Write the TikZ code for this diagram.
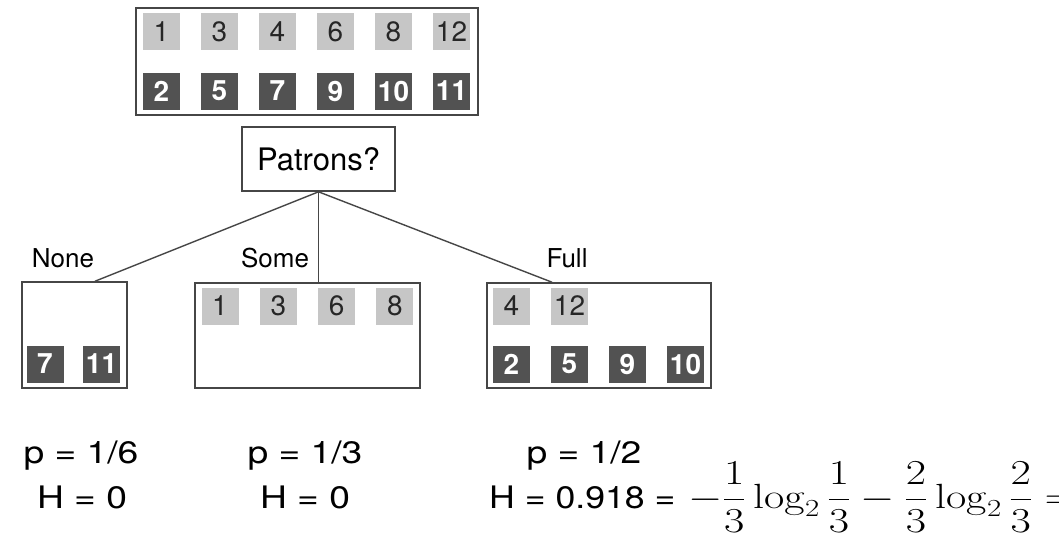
\documentclass[tikz,border=0pt]{standalone}
\usepackage{fix-cm}
\usepackage{amsmath}
\usepackage[no-math]{fontspec}
\setmainfont{TeX Gyre Heros}
\definecolor{boxline}{RGB}{70,70,70}
\definecolor{paleex}{RGB}{198,198,198}
\definecolor{darkex}{RGB}{82,82,82}
\newcommand{\widetext}[2][1.2]{\scalebox{#1}[1]{#2}}

\begin{document}
\begin{tikzpicture}[
        x=1pt, y=-1pt,
        setbox/.style={draw=boxline, line width=1.6pt, inner sep=0pt},
        pos_ex/.style={fill=paleex, minimum size=37pt, inner sep=0pt, text=black!85, font=\fontsize{28}{28}\selectfont},
        neg_ex/.style={fill=darkex, minimum size=37pt, inner sep=0pt, text=white, font=\fontsize{28}{28}\selectfont\bfseries},
        branch/.style={line width=1.4pt, draw=boxline},
        value_label/.style={font=\fontsize{26}{26}\selectfont, anchor=base},
        stat/.style={font=\fontsize{31}{31}\selectfont, anchor=base, inner sep=0pt}
    ]
    \useasboundingbox (0,0) rectangle (1059,533);

    % --- All twelve examples ---
    \node[setbox, minimum width=342pt, minimum height=107pt] (all) at (307,61.5) {};
    \foreach \n [count=\i] in {1,3,4,6,8,12}
        \node[pos_ex] (a\n) at (103.5+58*\i,31.5) {\n};
    \foreach \n [count=\i] in {2,5,7,9,10,11}
        \node[neg_ex] (a\n) at (103.5+58*\i,91) {\n};

    % --- Attribute test ---
    \node[setbox, minimum width=153pt, minimum height=64pt, font=\fontsize{31}{31}\selectfont] (patrons) at (318.5,159) {Patrons?};

    % --- Leaves ---
    \node[setbox, minimum width=105pt, minimum height=106pt] (none) at (74.5,335) {};
    \node[setbox, minimum width=225pt, minimum height=105pt] (some) at (307.5,335.5) {};
    \node[setbox, minimum width=224pt, minimum height=105pt] (full) at (599,335.5) {};

    % None
    \node[neg_ex] (n7) at (45,364) {7};
    \node[neg_ex] (n11) at (101.5,364) {11};

    % Some
    \foreach \n [count=\i] in {1,3,6,8}
        \node[pos_ex] (s\n) at (161.7+58.3*\i,306) {\n};

    % Full
    \node[pos_ex] (f4) at (511.5,306) {4};
    \node[pos_ex] (f12) at (569.5,306) {12};
    \foreach \n [count=\i] in {2,5,9,10}
        \node[neg_ex] (f\n) at (453.5+58*\i,364) {\n};

    % --- Branches ---
    \draw[branch] (patrons.south) -- ([xshift=20.5pt]none.north);
    \draw[branch] (patrons.south) -- (patrons.south |- some.north);
    \draw[branch] (patrons.south) -- ([xshift=-47pt]full.north);

    \node[value_label] (lnone) at (63,267) {None};
    \node[value_label] (lsome) at (275,267) {Some};
    \node[value_label] (lfull) at (567,267) {Full};

    % --- Probabilities and entropies ---
    \node[stat] (p1) at (81,463) {\widetext{p = 1/6}};
    \node[stat] (h1) at (82,508) {\widetext{H = 0}};
    \node[stat] (p2) at (305,463) {\widetext{p = 1/3}};
    \node[stat] (h2) at (305,508) {\widetext{H = 0}};
    \node[stat] (p3) at (584,463) {\widetext{p = 1/2}};
    \node[stat, anchor=base west] (h3) at (489,508) {\widetext[1.15]{H = 0.918 =}};
    \node[stat, anchor=base west, font=\fontsize{35}{35}\selectfont] (h3sum) at (688,508)
        {\widetext[1.26]{$\displaystyle -\frac{1}{3}\log_2\frac{1}{3}-\frac{2}{3}\log_2\frac{2}{3} =$}};

\end{tikzpicture}
\end{document}
